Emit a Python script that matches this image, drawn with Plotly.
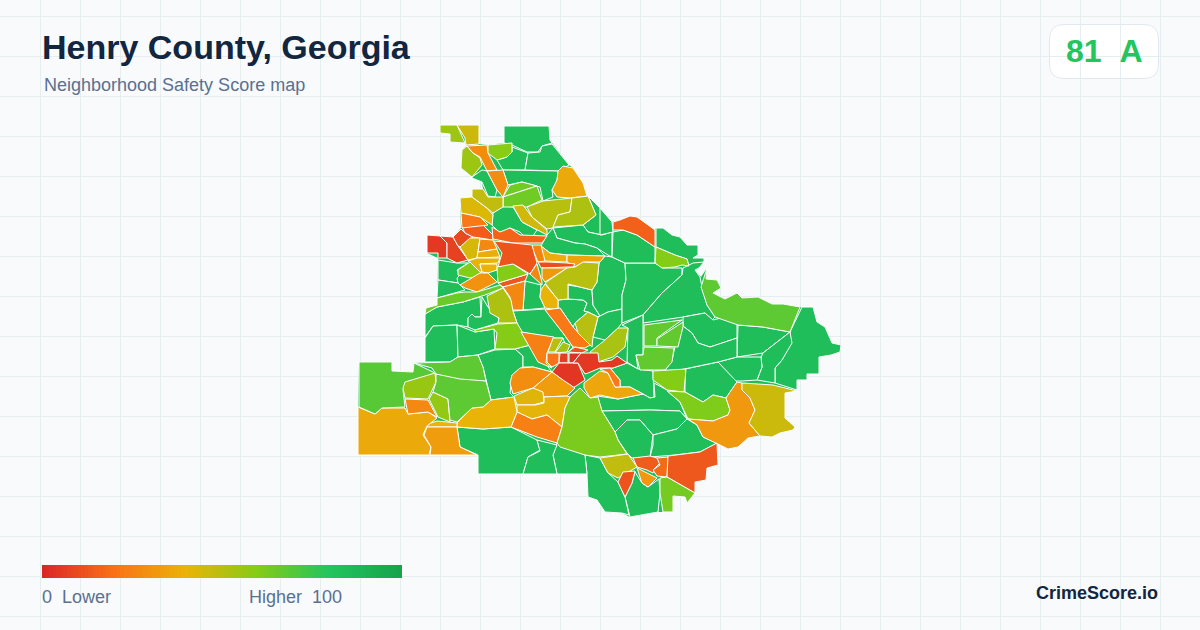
#!/usr/bin/env python3

import plotly.graph_objs as go
from plotly.colors import sample_colorscale

TITLE = 'Henry County, Georgia'
SUBTITLE = 'Neighborhood Safety Score map'
SCORE_TEXT = '81\u00a0\u00a0A'
BRAND = 'CrimeScore.io'
LEGEND_LOW = '0\u00a0\u00a0Lower'
LEGEND_HIGH = 'Higher\u00a0\u00a0100'

COLORSCALE = [[0, '#dc2626'], [0.2, '#f97316'], [0.4, '#eab308'],
              [0.6, '#84cc16'], [0.8, '#22c55e'], [1, '#16a34a']]

LEGEND_VALUES = list(range(0, 101))

# county outline, sits under everything so small seams between areas stay filled
COUNTY_OUTLINE = [
    (504,126),(549,126),(550,140),(552,143),(569,165),(573,168),(583,183),(587,196),(600,208),(612,222),
    (620,220),(630,216),(637,217),(655,230),(656,228),(663,228),(672,235),(680,237),(687,245),(698,245),
    (698,255),(693,258),(704,258),(704,262),(699,268),(695,270),(701,277),(707,268),(706,279),(717,280),
    (721,288),(713,293),(725,299),(737,293),(742,298),(758,297),(772,304),(783,304),(800,307),(813,307),
    (817,322),(825,327),(832,343),(841,345),(840,352),(831,355),(819,357),(819,374),(807,374),(807,380),
    (797,380),(797,390),(785,393),(785,418),(795,427),(793,430),(780,433),(772,437),(760,436),(748,438),
    (738,447),(728,449),(717,443),(718,465),(707,468),(706,480),(695,482),(695,493),(687,503),(685,497),
    (673,496),(673,512),(658,512),(630,517),(622,513),(605,512),(597,500),(588,497),(587,474),(478,474),
    (478,455),(358,455),(358,407),(359,362),(392,362),(392,371),(413,372),(414,363),(425,362),(425,314),
    (426,308),(437,305),(438,258),(427,253),(427,235),(453,237),(461,228),(460,198),(472,197),(472,189),
    (483,189),(482,182),(472,178),(472,177),(461,168),(462,150),(467,146),(465,143),(450,142),(450,134),
    (440,133),(440,125),(479,125),(479,144),(488,145),(504,143),
]
COUNTY_SCORE = 84

# neighborhood outlines in map units, drawn first so the others sit on top
GREEN_AREAS = [
    [(504,126),(549,126),(550,140),(552,143),(542,146),(538,152),(527,152),(512,145),(504,143)],
    [(512,147),(528,153),(525,170),(503,170),(497,160),(507,157),(512,152)],
    [(528,153),(540,152),(542,146),(552,144),(569,165),(558,171),(525,170)],
    [(503,170),(558,171),(557,182),(552,190),(553,197),(543,201),(540,187),(522,182),(508,185)],
    [(472,177),(482,170),(487,171),(497,190),(495,197),(488,196),(482,182),(472,178)],
    [(503,206),(513,207),(522,222),(537,230),(533,236),(525,237),(520,232),(510,228),(500,233),(492,225),(493,213)],
    [(583,225),(596,215),(588,196),(600,208),(612,222),(612,232),(602,235),(588,232)],
    [(553,228),(583,225),(588,232),(602,235),(612,232),(612,257),(608,255),(597,248),(585,244),(575,243),(557,238)],
    [(547,235),(553,228),(557,238),(575,243),(585,244),(597,248),(605,256),(567,255),(550,253),(541,246)],
    [(438,260),(457,263),(468,263),(457,270),(460,275),(457,278),(458,283),(438,280)],
    [(438,280),(458,283),(465,290),(458,292),(437,298)],
    [(525,281),(541,285),(540,297),(545,308),(523,310)],
    [(513,311),(545,309),(563,333),(573,347),(568,352),(563,338),(553,338),(521,332),(517,323)],
    [(558,300),(568,299),(583,300),(587,303),(584,311),(588,312),(575,323),(573,327),(560,308),(558,310)],
    [(568,285),(580,287),(592,290),(593,305),(600,316),(598,317),(588,312),(584,311),(587,303),(583,300),(568,299)],
    [(597,282),(599,263),(605,256),(612,257),(625,263),(626,280),(622,295),(622,309),(608,312),(600,316),(593,305),(592,290)],
    [(598,317),(608,312),(622,309),(622,323),(618,328),(605,340),(593,337)],
    [(625,263),(655,263),(663,268),(682,268),(682,275),(662,293),(643,315),(622,323),(622,295),(626,280)],
    [(613,232),(623,230),(637,235),(655,247),(655,263),(625,263),(612,257)],
    [(600,208),(612,222),(613,232),(600,235)],
    [(656,228),(663,228),(672,235),(680,237),(687,245),(698,245),(698,255),(693,258),(704,258),(704,262),(689,267),(687,259),(675,255),(656,247)],
    [(683,268),(693,263),(704,262),(699,268),(695,270),(700,277),(702,287),(707,305),(715,317),(712,320),(705,313),(683,317),(643,323),(643,315),(662,293),(682,275)],
    [(802,307),(813,307),(817,322),(825,327),(832,343),(841,345),(840,352),(831,355),(819,357),(819,374),(807,374),(807,380),(797,380),(797,390),(775,383),(775,368),(782,360),(790,342),(790,332)],
    [(738,325),(763,327),(790,332),(763,353),(737,357)],
    [(790,332),(792,343),(782,360),(775,368),(775,383),(757,380),(762,367),(761,357),(763,353)],
    [(737,357),(761,357),(762,367),(757,380),(742,381),(733,381),(718,362)],
    [(685,369),(718,362),(737,382),(730,392),(726,398),(713,395),(703,402),(685,392)],
    [(683,317),(705,313),(713,320),(725,317),(737,323),(737,338),(710,347),(698,343),(692,333),(683,326)],
    [(683,326),(692,333),(698,343),(710,347),(737,338),(737,357),(718,362),(685,369),(665,373),(665,371),(672,360),(675,347)],
    [(622,325),(643,315),(643,355),(636,355),(638,369),(627,362),(628,328)],
    [(613,368),(627,363),(638,369),(653,371),(654,397),(650,398),(643,394),(630,387),(620,387),(620,380),(610,368)],
    [(654,383),(667,390),(680,402),(687,419),(680,411),(650,410),(602,411),(597,396),(618,399),(643,394),(650,398),(655,397)],
    [(602,411),(650,410),(680,411),(687,419),(677,429),(653,435),(640,420),(627,420),(615,432)],
    [(653,435),(677,429),(687,419),(697,425),(703,437),(717,443),(700,452),(675,455),(650,457),(653,445)],
    [(615,432),(627,420),(640,420),(653,435),(650,457),(632,458),(627,453),(618,440)],
    [(635,472),(642,483),(648,487),(659,479),(660,493),(658,512),(630,517),(625,497),(632,483)],
    [(585,455),(600,458),(608,473),(618,482),(625,497),(629,515),(622,513),(605,512),(597,500),(588,497),(587,474)],
    [(557,443),(585,455),(587,474),(557,474),(553,455)],
    [(478,455),(478,474),(523,474),(528,457),(540,450),(537,440),(511,427),(483,429),(457,427),(460,447)],
    [(523,474),(528,457),(540,451),(537,440),(557,445),(553,455),(557,474)],
    [(425,314),(437,307),(463,302),(480,297),(481,317),(475,317),(472,314),(468,318),(468,327),(457,325),(433,326),(425,337)],
    [(482,297),(488,307),(499,319),(498,323),(475,330),(468,327),(468,318),(472,314),(475,317),(481,317)],
    [(425,338),(433,326),(457,325),(458,357),(450,362),(425,362)],
    [(457,325),(475,332),(494,329),(495,349),(478,355),(458,357)],
    [(478,355),(495,350),(515,349),(523,356),(523,367),(512,375),(510,393),(514,397),(491,400),(486,381),(483,367)],
    [(521,332),(552,372),(533,367),(523,367),(523,356),(515,349),(530,345)],
]
GREEN_SCORES = [COUNTY_SCORE] * len(GREEN_AREAS)

COLORED_AREAS = [
    [(440,125),(457,125),(465,143),(450,142),(450,134),(440,133)],
    [(457,125),(479,125),(479,144),(466,145),(465,138)],
    [(462,150),(467,146),(473,153),(480,158),(482,165),(472,177),(461,168)],
    [(467,146),(487,145),(488,153),(497,170),(487,171),(480,157),(473,153)],
    [(487,171),(503,170),(508,185),(503,197),(497,190)],
    [(488,145),(512,143),(512,152),(507,157),(497,160),(488,153)],
    [(563,166),(573,168),(583,183),(587,196),(570,198),(557,197),(552,190),(557,180),(558,171)],
    [(503,197),(510,185),(522,182),(537,186)],
    [(503,197),(537,186),(542,200),(527,207),(503,207)],
    [(460,198),(472,197),(487,208),(493,215),(492,225),(480,217),(461,213)],
    [(472,189),(483,189),(488,197),(495,197),(503,197),(503,207),(493,213),(487,208),(472,197)],
    [(513,206),(523,205),(532,217),(547,230),(547,235),(537,230),(522,222)],
    [(527,207),(543,201),(572,198),(570,212),(558,215),(553,228),(547,229),(532,217)],
    [(572,198),(588,196),(596,215),(583,225),(553,227),(558,215),(570,212)],
    [(613,222),(620,220),(630,216),(637,217),(655,230),(655,247),(637,235),(623,230),(613,230)],
    [(541,246),(550,253),(567,255),(567,262),(545,261),(542,252)],
    [(567,255),(605,256),(600,262),(585,262),(575,267),(567,262)],
    [(532,245),(541,245),(545,261),(538,262),(533,250)],
    [(538,262),(547,262),(567,263),(575,264),(573,267),(567,267),(545,268),(541,268)],
    [(542,268),(567,268),(545,282),(542,278)],
    [(545,283),(567,268),(575,267),(583,262),(599,263),(597,282),(592,290),(580,287),(568,284),(568,299),(558,300)],
    [(541,290),(545,284),(558,300),(558,310),(545,308),(540,297)],
    [(545,310),(560,308),(573,327),(590,345),(585,348),(573,347),(563,333)],
    [(575,323),(588,312),(598,317),(593,337),(592,347),(578,333)],
    [(590,352),(605,340),(618,328),(628,328),(625,347),(613,357),(598,362),(590,353)],
    [(427,235),(440,236),(447,243),(447,258),(438,258),(438,253),(427,253)],
    [(440,236),(453,237),(458,246),(468,260),(457,263),(447,258),(447,243)],
    [(453,237),(461,229),(465,233),(473,237),(470,239),(460,247),(458,246)],
    [(462,227),(483,225),(493,235),(493,240),(473,237),(465,233)],
    [(461,213),(480,217),(488,225),(462,228)],
    [(492,227),(500,232),(510,228),(520,235),(547,236),(542,243),(513,243),(493,239)],
    [(494,241),(513,243),(532,245),(537,263),(530,274),(515,265),(498,267),(502,253)],
    [(460,247),(470,238),(480,238),(478,252),(477,258),(468,260)],
    [(480,239),(493,240),(497,249),(478,252)],
    [(478,252),(497,249),(500,257),(477,258)],
    [(468,261),(477,258),(500,258),(498,263),(480,264),(482,272),(480,272)],
    [(480,264),(497,264),(497,270),(488,273),(482,272)],
    [(458,270),(470,262),(483,275),(470,278),(458,275)],
    [(460,285),(480,273),(488,273),(497,282),(477,292),(465,288)],
    [(498,283),(528,274),(525,281),(503,287)],
    [(497,267),(513,264),(528,274),(498,283)],
    [(503,287),(525,281),(523,310),(512,310),(510,297)],
    [(530,274),(537,264),(542,282),(542,285)],
    [(437,298),(457,293),(465,292),(477,292),(500,285),(503,288),(485,295),(463,302),(437,307),(425,314),(426,308),(437,305)],
    [(487,296),(503,288),(511,300),(513,311),(517,323),(498,323),(499,318),(490,313)],
    [(475,330),(498,324),(517,323),(530,345),(515,349),(495,349),(497,333),(494,329),(475,332)],
    [(521,332),(554,337),(547,353),(546,363),(552,368),(538,362)],
    [(553,338),(563,338),(555,352),(548,352)],
    [(563,342),(570,345),(567,352),(555,353)],
    [(547,353),(559,353),(559,363),(552,367),(547,362)],
    [(568,352),(575,347),(588,350),(582,353)],
    [(560,353),(568,353),(568,363),(559,363)],
    [(569,353),(581,353),(573,363),(569,363)],
    [(552,372),(559,363),(578,363),(585,380),(573,388),(563,380)],
    [(581,353),(598,353),(599,362),(612,360),(617,356),(627,363),(613,368),(600,368),(588,373),(585,374),(578,363),(573,363)],
    [(584,383),(600,371),(608,373),(615,387),(630,387),(643,394),(618,399),(600,395),(590,398),(584,388)],
    [(600,369),(610,368),(620,380),(620,387),(615,387),(608,373)],
    [(533,388),(552,372),(563,380),(575,388),(567,396),(540,397)],
    [(512,375),(520,368),(533,367),(552,372),(533,388),(513,394),(510,383)],
    [(514,396),(533,388),(543,392),(544,402),(533,405),(517,405)],
    [(517,405),(535,405),(544,403),(544,397),(567,396),(570,397),(565,408),(562,427),(547,415),(532,419),(517,412)],
    [(517,412),(532,419),(547,415),(562,427),(557,443),(537,437),(511,427)],
    [(457,423),(472,408),(483,407),(491,400),(514,397),(517,412),(511,427),(483,429),(457,427)],
    [(428,424),(437,421),(457,423),(457,427),(427,427)],
    [(358,407),(375,414),(382,408),(405,408),(408,414),(428,412),(437,418),(427,426),(423,435),(431,447),(429,455),(358,455)],
    [(427,427),(457,427),(460,447),(477,455),(430,455),(431,447),(424,435)],
    [(359,362),(392,362),(392,371),(413,372),(414,363),(433,372),(435,374),(407,382),(403,390),(405,407),(382,408),(375,414),(359,407)],
    [(405,382),(435,373),(436,382),(428,399),(405,398),(403,388)],
    [(405,399),(428,400),(437,417),(428,412),(408,414)],
    [(429,399),(433,392),(448,399),(450,422),(438,417)],
    [(436,374),(486,381),(491,400),(483,407),(472,408),(457,422),(450,420),(448,399),(433,392),(436,382)],
    [(414,363),(450,362),(458,357),(478,355),(483,367),(486,381),(460,379),(436,374),(432,368)],
    [(656,247),(675,255),(687,259),(689,266),(682,265),(675,267),(662,268),(655,263)],
    [(707,268),(706,279),(717,280),(721,288),(713,293),(725,299),(737,293),(742,298),(758,297),(772,304),(783,304),(800,307),(790,332),(763,327),(738,325),(715,317),(707,305),(701,287)],
    [(644,325),(682,320),(657,338),(657,346),(644,346)],
    [(683,322),(683,327),(678,347),(657,346),(657,339)],
    [(636,355),(643,355),(644,347),(674,348),(672,362),(665,370),(640,370)],
    [(653,371),(686,369),(684,392),(667,390),(653,380)],
    [(667,391),(685,392),(703,402),(713,395),(726,398),(730,410),(728,415),(713,421),(688,419),(680,402)],
    [(737,382),(742,383),(742,390),(750,398),(755,410),(749,423),(760,436),(748,438),(738,447),(728,449),(720,445),(703,437),(697,425),(688,419),(713,421),(728,415),(730,410),(726,398),(730,392)],
    [(742,383),(773,385),(797,391),(785,393),(785,418),(795,427),(793,430),(780,433),(772,437),(760,436),(749,423),(755,410),(750,398),(742,390)],
    [(580,388),(590,398),(598,397),(602,411),(615,432),(618,440),(627,454),(600,457),(585,455),(560,447),(557,443),(562,427),(565,408),(570,397)],
    [(633,458),(650,456),(657,458),(660,463),(655,468),(653,473),(647,470),(637,467)],
    [(657,458),(668,457),(667,477),(657,476),(653,470),(660,465)],
    [(668,456),(700,452),(717,443),(718,465),(707,468),(706,480),(695,482),(695,493),(667,477)],
    [(637,468),(653,476),(657,478),(648,487),(642,483)],
    [(600,458),(628,454),(637,467),(618,478),(608,473)],
    [(623,472),(635,471),(632,483),(625,497),(618,482)],
    [(660,478),(667,477),(695,493),(687,503),(685,497),(673,496),(673,512),(663,512),(660,493)],
]
COLORED_SCORES = [
    55, 46, 55, 28, 28, 59, 37, 64, 64, 43,
    48, 45, 50, 52, 15, 38, 35, 25, 10, 32,
    50, 40, 22, 50, 53, 5, 7, 9, 14, 22,
    16, 12, 44, 27, 38, 41, 40, 60, 30, 13,
    60, 26, 26, 65, 52, 60, 24, 50, 54, 20,
    12, 6, 3, 4, 5, 36, 22, 33, 28, 42,
    41, 24, 40, 40, 37, 33, 69, 56, 27, 57,
    68, 68, 60, 68, 67, 67, 67, 60, 61, 32,
    46, 62, 14, 18, 13, 32, 48, 12, 63,
]


def area_trace(points, score, outlined=True):
    color = sample_colorscale(COLORSCALE, score / 100)[0]
    return go.Scatter(
        x=[p[0] for p in points] + [points[0][0]],
        y=[p[1] for p in points] + [points[0][1]],
        mode='lines',
        fill='toself',
        fillcolor=color,
        line=dict(color='#ffffff', width=1 if outlined else 0),
        text='Score %d' % score,
        hoverinfo='text',
        showlegend=False,
    )


def legend_trace():
    step = 360 / len(LEGEND_VALUES)
    return go.Heatmap(
        x=[42 + step * i for i in range(len(LEGEND_VALUES) + 1)],
        y=[565, 578],
        z=[LEGEND_VALUES],
        zmin=0,
        zmax=100,
        colorscale=COLORSCALE,
        showscale=False,
        hoverinfo='skip',
    )


def text_note(text, x, y, size, color, bold=False, anchor='left'):
    return dict(
        text='<b>%s</b>' % text if bold else text,
        x=x, y=y, xref='x', yref='y',
        xanchor=anchor, yanchor='middle',
        showarrow=False,
        font=dict(family='Liberation Sans', size=size, color=color),
    )


def create_figure():
    traces = [area_trace(COUNTY_OUTLINE, COUNTY_SCORE, outlined=False)]
    traces += [area_trace(p, s) for p, s in zip(GREEN_AREAS, GREEN_SCORES)]
    traces += [area_trace(p, s) for p, s in zip(COLORED_AREAS, COLORED_SCORES)]
    traces.append(legend_trace())

    axis = dict(showline=False, zeroline=False, showticklabels=False, ticks='',
                showgrid=True, gridcolor='#e6eef2', gridwidth=1, dtick=40)

    layout = dict(
        width=1200,
        height=630,
        margin=dict(l=0, r=0, t=0, b=0),
        paper_bgcolor='#f8fafc',
        plot_bgcolor='#f8fafc',
        xaxis=dict(axis, range=[0, 1200], tick0=0.5, fixedrange=True),
        yaxis=dict(axis, range=[630, 0], tick0=16.5, fixedrange=True),
        shapes=[
            # header band has no grid
            dict(type='rect', xref='x', yref='y', x0=0, x1=1200, y0=0, y1=96,
                 fillcolor='#f8fafc', line=dict(width=0), layer='below'),
            dict(type='path', xref='x', yref='y', layer='below',
                 path='M 1064 24.5 H 1144 Q 1158.5 24.5 1158.5 39 V 64 Q 1158.5 78.5 1144 78.5 '
                      'H 1064 Q 1049.5 78.5 1049.5 64 V 39 Q 1049.5 24.5 1064 24.5 Z',
                 fillcolor='#ffffff', line=dict(color='#e2e8f0', width=1)),
        ],
        annotations=[
            text_note(TITLE, 40, 47, 34, '#12263f', bold=True),
            text_note(SUBTITLE, 42, 85, 18, '#5a7090'),
            text_note(SCORE_TEXT, 1104, 51, 32, '#22c55e', bold=True, anchor='center'),
            text_note(LEGEND_LOW, 40, 597, 18, '#5a7090'),
            text_note(LEGEND_HIGH, 247, 597, 18, '#5a7090'),
            text_note(BRAND, 1160, 593, 18, '#12263f', bold=True, anchor='right'),
        ],
    )
    return go.Figure(data=traces, layout=layout)


if __name__ == '__main__':
    assert len(COLORED_AREAS) == len(COLORED_SCORES)
    fig = create_figure()
    fig.write_html("out.html", config=dict(displayModeBar=False),
                   post_script="document.body.style.margin='0';")
